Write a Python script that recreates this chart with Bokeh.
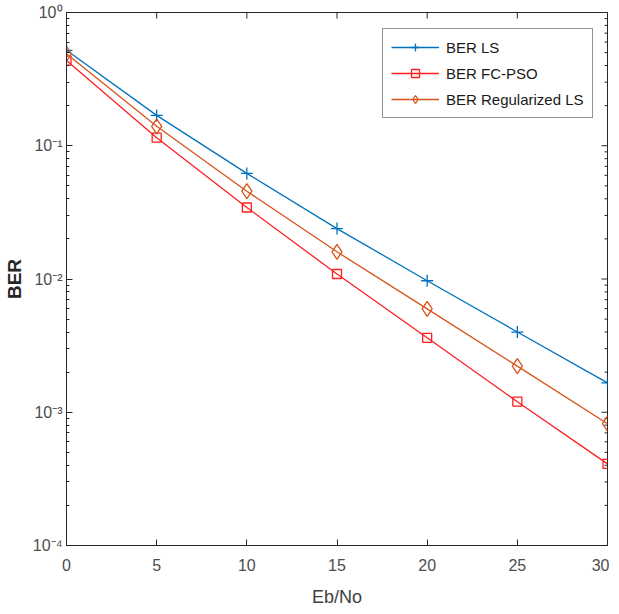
from bokeh.plotting import figure
from bokeh.models import FixedTicker, Range1d
from bokeh.embed import file_html
from bokeh.resources import INLINE

# ---- data ----
eb_no = [0, 5, 10, 15, 20, 25, 30]
ber_ls = [0.52, 0.169, 0.062, 0.0239, 0.0097, 0.0040, 0.00166]
ber_pso = [0.436, 0.115, 0.0344, 0.0109, 0.00362, 0.0012, 0.00041]
ber_reg = [0.49, 0.14, 0.0456, 0.016, 0.00597, 0.00222, 0.00082]

x_ticks = [0, 5, 10, 15, 20, 25, 30]
y_ticks = [1e-4, 1e-3, 1e-2, 1e-1, 1.0]
y_tick_labels = ["10⁻⁴", "10⁻³", "10⁻²", "10⁻¹", "10⁰"]

labels = ["BER LS", "BER FC-PSO", "BER Regularized LS"]
colors = ["#0072BD", "#FF1F1F", "#D95319"]

FONT = "Liberation Sans"
AXC = "#262626"
TICKC = "#4D4D4D"

minor = [m * 10.0 ** e for e in range(-4, 0) for m in range(2, 10)]

p = figure(frame_width=541, frame_height=533, y_axis_type="log",
           x_range=Range1d(0, 30), y_range=Range1d(1e-4, 1),
           output_backend="svg", toolbar_location=None,
           min_border_left=60, min_border_right=2,
           min_border_top=12, min_border_bottom=40)
p.xgrid.visible = False
p.ygrid.visible = False
p.outline_line_color = AXC
p.background_fill_color = "white"
p.border_fill_color = "white"

def style(ax):
    ax.axis_line_color = AXC
    ax.major_tick_line_color = AXC
    ax.minor_tick_line_color = AXC
    ax.major_tick_in = 6
    ax.major_tick_out = 0
    ax.minor_tick_in = 3
    ax.minor_tick_out = 0
    ax.major_label_text_font = FONT
    ax.major_label_text_font_size = "16px"
    ax.major_label_text_color = TICKC

# left axis
ya = p.yaxis[0]
ya.ticker = FixedTicker(ticks=y_ticks, minor_ticks=minor)
ya.major_label_overrides = {t: l for t, l in zip(y_ticks, y_tick_labels)}
style(ya)
ya.major_label_standoff = 4
ya.axis_label = "BER"
ya.axis_label_text_font = FONT
ya.axis_label_text_font_size = "19px"
ya.axis_label_text_font_style = "bold"
ya.axis_label_text_color = AXC
ya.axis_label_standoff = 5

# bottom axis
xa = p.xaxis[0]
xa.ticker = FixedTicker(ticks=x_ticks, minor_ticks=[])
style(xa)
xa.major_label_standoff = 13
xa.axis_label = "Eb/No"
xa.axis_label_text_font = FONT
xa.axis_label_text_font_size = "18px"
xa.axis_label_text_font_style = "normal"
xa.axis_label_text_color = "#404040"
xa.axis_label_standoff = 13

# ticks on the top and right edges of the box (inward dashes, clipped by frame)
top_y = [y_ticks[-1]] * len(x_ticks)
p.scatter(x_ticks, top_y, marker="dash", angle=1.5708, size=12,
          line_color=AXC, line_width=1)
right_x_major = [x_ticks[-1]] * len(y_ticks)
p.scatter(right_x_major, y_ticks, marker="dash", size=12,
          line_color=AXC, line_width=1)
right_x_minor = [x_ticks[-1]] * len(minor)
p.scatter(right_x_minor, minor, marker="dash", size=6,
          line_color=AXC, line_width=1)

series = [ber_ls, ber_pso, ber_reg]
markers = ["cross", "square", "diamond"]
sizes = [12, 9, 15]
for ys, lab, col, mk, sz in zip(series, labels, colors, markers, sizes):
    p.line(eb_no, ys, line_color=col, line_width=1.3, legend_label=lab)
    p.scatter(eb_no, ys, marker=mk, size=sz, line_color=col, line_width=1.3,
              fill_color=None, legend_label=lab)

lg = p.legend[0]
lg.location = (316, 427)
lg.border_line_color = AXC
lg.border_line_width = 1
lg.background_fill_color = "white"
lg.background_fill_alpha = 1
lg.label_text_font = FONT
lg.label_text_font_size = "15px"
lg.label_text_color = "#1A1A1A"
lg.glyph_width = 48
lg.glyph_height = 20
lg.label_height = 20
lg.label_standoff = 7
lg.spacing = 6
lg.padding = 8
lg.margin = 0

open("out.html", "w").write(file_html(p, INLINE))
